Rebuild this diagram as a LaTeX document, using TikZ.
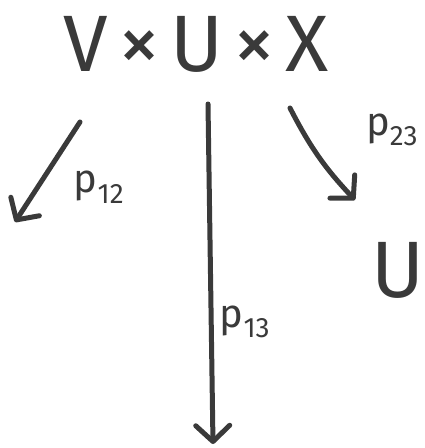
\documentclass[tikz,border=0pt]{standalone}
\usepackage{fontspec}
\setmainfont{Fira Sans}
\usetikzlibrary{arrows.meta}
\definecolor{inkc}{HTML}{3A3A3A}
\newcommand{\smtimes}{\hspace{10pt}{\fontsize{84}{84}\selectfont ×}\hspace{10pt}}
\begin{document}
\begin{tikzpicture}[x=1pt,y=-1pt,
  ink/.style={draw=inkc, line width=5pt, line cap=round, line join=round},
  arr/.style={ink, -{Straight Barb[length=16pt,width=34pt,line cap=round,line join=round]}},
  lab/.style={text=inkc, font=\fontsize{40}{40}\selectfont, inner sep=0pt},
  big/.style={text=inkc, font=\fontsize{80}{80}\selectfont, inner sep=0pt}]
\useasboundingbox (0,0) rectangle (424,448);
\node[big] (t) at (196,44) {V\smtimes U\smtimes X};
\node[big] (u) at (398,270) {U};
\coordinate (s1) at (80,122); \coordinate (e1) at (15,222);
\coordinate (s2) at (208,104); \coordinate (e2) at (213,444);
\coordinate (s3) at (290,108); \coordinate (e3) at (355,200);
\draw[arr] (s1) -- (e1);
\draw[arr] (s2) -- (e2);
\draw[arr] (s3) to[bend right=8] (e3);
\node[lab] (p12) at (99,187) {p\textsubscript{12}};
\node[lab] (p13) at (245,322) {p\textsubscript{13}};
\node[lab] (p23) at (392,130) {p\textsubscript{23}};
\end{tikzpicture}
\end{document}
